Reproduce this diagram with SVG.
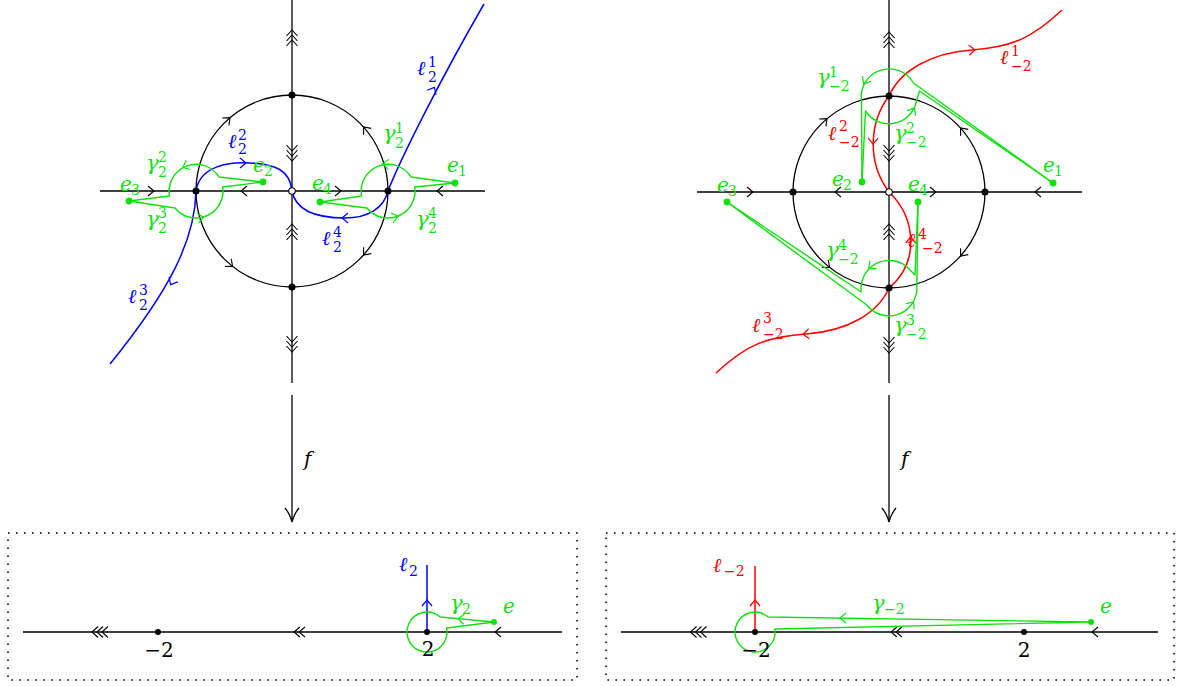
<svg xmlns="http://www.w3.org/2000/svg" xmlns:xlink="http://www.w3.org/1999/xlink" width="1181" height="686" viewBox="0 0 1181 686">
<style>
.ax{stroke:#000;stroke-width:1.3;fill:none}
.bl{stroke:#0000ff;stroke-width:1.5;fill:none}
.rd{stroke:#ff0000;stroke-width:1.5;fill:none}
.gn{stroke:#10e010;stroke-width:1.4;fill:none;stroke-linejoin:round}
.ck{stroke:#000;stroke-width:1.1;fill:none}
.cb{stroke:#0000ff;stroke-width:1.2;fill:none}
.cr{stroke:#ff0000;stroke-width:1.2;fill:none}
.cg{stroke:#10e010;stroke-width:1.2;fill:none}
.dot{fill:#000}
.gdot{fill:#10e010}
.box{fill:none;stroke:#000;stroke-width:1.6;stroke-dasharray:1.6 6.4}
.t{font-family:"DejaVu Serif","Liberation Serif",serif;font-style:italic;font-size:20px}
.g{font-size:21px}
.s{font-style:normal;font-size:14px}
.n{font-family:"DejaVu Serif","Liberation Serif",serif;font-size:20px;fill:#000;text-anchor:middle}
.tb{fill:#0000ff}
.tr{fill:#ff0000}
.tg{fill:#10e010}
.tk{fill:#000}
</style>
<defs>
<path id="c1" d="M-3,-5 L3,0 L-3,5"/>
<path id="c2" d="M-5.5,-5 L0.5,0 L-5.5,5 M-0.5,-5 L5.5,0 L-0.5,5"/>
<path id="c3" d="M-8,-5.5 L-2,0 L-8,5.5 M-3,-5.5 L3,0 L-3,5.5 M2,-5.5 L8,0 L2,5.5"/>
</defs>

<!-- ===== LEFT TOP DIAGRAM ===== -->
<g id="left-axes">
<line class="ax" x1="100" y1="191" x2="485" y2="191"/>
<line class="ax" x1="292" y1="0" x2="292" y2="383"/>
<circle class="ax" cx="292" cy="191" r="96"/>
<use href="#c1" class="ck" transform="translate(151,191)"/>
<use href="#c1" class="ck" transform="translate(244,191) rotate(180)"/>
<use href="#c1" class="ck" transform="translate(338,191)"/>
<use href="#c1" class="ck" transform="translate(440,191) rotate(180)"/>
<use href="#c3" class="ck" transform="translate(292,38) rotate(-90)"/>
<use href="#c3" class="ck" transform="translate(292,153) rotate(90)"/>
<use href="#c3" class="ck" transform="translate(292,232) rotate(-90)"/>
<use href="#c3" class="ck" transform="translate(292,344) rotate(90)"/>
<use href="#c1" class="ck" transform="translate(227.8,119.7) rotate(-42)"/>
<use href="#c1" class="ck" transform="translate(365.5,129.3) rotate(230)"/>
<use href="#c1" class="ck" transform="translate(230.3,264.5) rotate(40)"/>
<use href="#c1" class="ck" transform="translate(365.5,252.7) rotate(130)"/>
</g>
<g id="left-lines">
<path class="bl" d="M388,191 C400,160 440,80 484,4"/>
<path class="bl" d="M196,191 C200,165 230,162 250,163 C275,164 290,170 292,191"/>
<path class="bl" d="M196,191 C195,240 170,290 110,364"/>
<path class="bl" d="M292,191 C296,212 320,218 345,218 C368,218 384,208 388,191"/>
<use href="#c1" class="cb" transform="translate(433,90) rotate(-62)"/>
<use href="#c1" class="cb" transform="translate(243,163)"/>
<use href="#c1" class="cb" transform="translate(172,282) rotate(120)"/>
<use href="#c1" class="cb" transform="translate(345,218) rotate(180)"/>
</g>
<g id="left-loops">
<path class="gn" d="M455,183 L411,177 A27,27 0 0 0 361.5,196 L320,202"/>
<path class="gn" d="M320,202 L367,208 A27,27 0 0 0 414.7,187 L455,183"/>
<path class="gn" d="M263,182 L219,177 A27,27 0 0 0 169.5,196 L129,201"/>
<path class="gn" d="M129,201 L175,208 A27,27 0 0 0 222.7,187 L263,182"/>
<use href="#c1" class="cg" transform="translate(385.6,164.1) rotate(185)"/>
<use href="#c1" class="cg" transform="translate(395,217.1) rotate(-15)"/>
<use href="#c1" class="cg" transform="translate(185.5,166.1) rotate(157)"/>
<use href="#c1" class="cg" transform="translate(200.7,217.6) rotate(-10)"/>
</g>
<g id="left-points">
<circle class="dot" cx="292" cy="95" r="3.5"/>
<circle class="dot" cx="292" cy="287" r="3.5"/>
<circle class="dot" cx="196" cy="191" r="3.5"/>
<circle class="dot" cx="388" cy="191" r="3.5"/>
<circle cx="292" cy="191" r="3.3" fill="#fff" stroke="#000" stroke-width="1.1"/>
<circle class="gdot" cx="455" cy="183" r="3.4"/>
<circle class="gdot" cx="263" cy="182" r="3.4"/>
<circle class="gdot" cx="129" cy="201" r="3.4"/>
<circle class="gdot" cx="320" cy="202" r="3.4"/>
</g>
<g id="left-labels">
<text class="t tg"><tspan x="447" y="172">e</tspan><tspan class="s" x="458" y="176">1</tspan></text>
<text class="t tg"><tspan x="253" y="172">e</tspan><tspan class="s" x="264" y="176">2</tspan></text>
<text class="t tg"><tspan x="120" y="191">e</tspan><tspan class="s" x="131" y="195">3</tspan></text>
<text class="t tg"><tspan x="312" y="190">e</tspan><tspan class="s" x="323" y="194">4</tspan></text>
<text class="t tb"><tspan x="417" y="75">ℓ</tspan><tspan class="s" x="428" y="67">1</tspan><tspan class="s" x="428" y="82">2</tspan></text>
<text class="t tb"><tspan x="228" y="148">ℓ</tspan><tspan class="s" x="238" y="140">2</tspan><tspan class="s" x="238" y="154">2</tspan></text>
<text class="t tb"><tspan x="128" y="303">ℓ</tspan><tspan class="s" x="139" y="295">3</tspan><tspan class="s" x="139" y="310">2</tspan></text>
<text class="t tb"><tspan x="322" y="245">ℓ</tspan><tspan class="s" x="333" y="237">4</tspan><tspan class="s" x="333" y="252">2</tspan></text>
<text class="t tg"><tspan class="g" x="383" y="140">γ</tspan><tspan class="s" x="395" y="133">1</tspan><tspan class="s" x="395" y="148">2</tspan></text>
<text class="t tg"><tspan class="g" x="146" y="170">γ</tspan><tspan class="s" x="158" y="162">2</tspan><tspan class="s" x="158" y="177">2</tspan></text>
<text class="t tg"><tspan class="g" x="146" y="226">γ</tspan><tspan class="s" x="158" y="218">3</tspan><tspan class="s" x="158" y="233">2</tspan></text>
<text class="t tg"><tspan class="g" x="416" y="226">γ</tspan><tspan class="s" x="428" y="218">4</tspan><tspan class="s" x="428" y="233">2</tspan></text>
</g>

<!-- ===== RIGHT TOP DIAGRAM ===== -->
<g id="right-axes">
<line class="ax" x1="697" y1="192" x2="1082" y2="192"/>
<line class="ax" x1="889" y1="0" x2="889" y2="383"/>
<circle class="ax" cx="889" cy="192" r="96"/>
<use href="#c1" class="ck" transform="translate(750,192)"/>
<use href="#c1" class="ck" transform="translate(838,192) rotate(180)"/>
<use href="#c1" class="ck" transform="translate(933,192)"/>
<use href="#c1" class="ck" transform="translate(1038,192) rotate(180)"/>
<use href="#c3" class="ck" transform="translate(889,40) rotate(-90)"/>
<use href="#c3" class="ck" transform="translate(889,153) rotate(90)"/>
<use href="#c3" class="ck" transform="translate(889,232) rotate(-90)"/>
<use href="#c3" class="ck" transform="translate(889,345) rotate(90)"/>
<use href="#c1" class="ck" transform="translate(824.8,120.7) rotate(-42)"/>
<use href="#c1" class="ck" transform="translate(962.5,130.3) rotate(230)"/>
<use href="#c1" class="ck" transform="translate(827.3,265.5) rotate(40)"/>
<use href="#c1" class="ck" transform="translate(962.5,253.7) rotate(130)"/>
</g>
<g id="right-lines">
<path class="rd" d="M889,96 C900,71 930,53 972,50 C1010,47 1030,40 1062,10"/>
<path class="rd" d="M889,96 C870,121 866,161 889,192"/>
<path class="rd" d="M889,192 C916,218 920,262 889,288"/>
<path class="rd" d="M889,288 C878,313 848,331 806,334 C768,337 748,343 716,373"/>
<use href="#c1" class="cr" transform="translate(972,50) rotate(-4)"/>
<use href="#c1" class="cr" transform="translate(873,141) rotate(92)"/>
<use href="#c1" class="cr" transform="translate(910.7,240) rotate(-90)"/>
<use href="#c1" class="cr" transform="translate(806,334) rotate(176)"/>
</g>
<g id="right-loops">
<path class="gn" d="M1053,183 L913.5,83 A28,28 0 0 0 861.5,101 L862,182"/>
<path class="gn" d="M862,182 L865.5,111 A28,28 0 0 0 916.5,101 L919.5,91 L1053,183"/>
<path class="gn" d="M727,202 L866.8,305 A28,28 0 0 0 916.8,291 L918,202"/>
<path class="gn" d="M918,202 L915,275 L907,267 A28,28 0 0 0 861.2,292 L727,202"/>
<use href="#c1" class="cg" transform="translate(865.2,81.3) rotate(121.6)"/>
<use href="#c1" class="cg" transform="translate(912.9,110.7) rotate(-58.4)"/>
<use href="#c1" class="cg" transform="translate(911.8,304.2) rotate(-54.7)"/>
<use href="#c1" class="cg" transform="translate(870.9,266.7) rotate(139.6)"/>
</g>
<g id="right-points">
<circle class="dot" cx="889" cy="96" r="3.5"/>
<circle class="dot" cx="889" cy="288" r="3.5"/>
<circle class="dot" cx="793" cy="192" r="3.5"/>
<circle class="dot" cx="985" cy="192" r="3.5"/>
<circle cx="889" cy="192" r="3.3" fill="#fff" stroke="#000" stroke-width="1.1"/>
<circle class="gdot" cx="1053" cy="183" r="3.4"/>
<circle class="gdot" cx="862" cy="182" r="3.4"/>
<circle class="gdot" cx="727" cy="202" r="3.4"/>
<circle class="gdot" cx="918" cy="202" r="3.4"/>
</g>
<g id="right-labels">
<text class="t tg"><tspan x="1043" y="172">e</tspan><tspan class="s" x="1054" y="176">1</tspan></text>
<text class="t tg"><tspan x="832" y="186">e</tspan><tspan class="s" x="843" y="190">2</tspan></text>
<text class="t tg"><tspan x="717" y="192">e</tspan><tspan class="s" x="728" y="196">3</tspan></text>
<text class="t tg"><tspan x="908" y="191">e</tspan><tspan class="s" x="919" y="195">4</tspan></text>
<text class="t tr"><tspan x="1000" y="64">ℓ</tspan><tspan class="s" x="1011" y="56">1</tspan><tspan class="s" x="1011" y="71">−2</tspan></text>
<text class="t tr"><tspan x="828" y="140">ℓ</tspan><tspan class="s" x="839" y="131">2</tspan><tspan class="s" x="839" y="147">−2</tspan></text>
<text class="t tr"><tspan x="752" y="332">ℓ</tspan><tspan class="s" x="763" y="323">3</tspan><tspan class="s" x="763" y="339">−2</tspan></text>
<text class="t tr"><tspan x="907" y="247">ℓ</tspan><tspan class="s" x="918" y="239">4</tspan><tspan class="s" x="922" y="253">−2</tspan></text>
<text class="t tg"><tspan class="g" x="817" y="84">γ</tspan><tspan class="s" x="829" y="77">1</tspan><tspan class="s" x="829" y="91">−2</tspan></text>
<text class="t tg"><tspan class="g" x="894" y="140">γ</tspan><tspan class="s" x="906" y="133">2</tspan><tspan class="s" x="906" y="147">−2</tspan></text>
<text class="t tg"><tspan class="g" x="894" y="332">γ</tspan><tspan class="s" x="906" y="325">3</tspan><tspan class="s" x="906" y="339">−2</tspan></text>
<text class="t tg"><tspan class="g" x="826" y="257">γ</tspan><tspan class="s" x="838" y="250">4</tspan><tspan class="s" x="838" y="264">−2</tspan></text>
</g>

<!-- ===== MAP ARROWS ===== -->
<g id="map-f-left">
<line class="ax" x1="292" y1="395" x2="292" y2="521"/>
<path class="ax" d="M285,508 Q290,514 292,522 Q294,514 299,508"/>
<text class="t tk" x="304" y="466">f</text>
</g>
<g id="map-f-right">
<line class="ax" x1="889" y1="395" x2="889" y2="521"/>
<path class="ax" d="M882,508 Q887,514 889,522 Q891,514 896,508"/>
<text class="t tk" x="901" y="466">f</text>
</g>

<!-- ===== BOTTOM LEFT ===== -->
<g id="bottom-left">
<rect class="box" x="8" y="533" width="569" height="147"/>
<line class="ax" x1="23" y1="632" x2="562" y2="632"/>
<use href="#c3" class="ck" transform="translate(100,632) rotate(180)"/>
<use href="#c2" class="ck" transform="translate(299.5,632) rotate(180)"/>
<use href="#c1" class="ck" transform="translate(498,632) rotate(180)"/>
<line class="bl" x1="427" y1="632" x2="427" y2="565"/>
<use href="#c1" class="cb" transform="translate(427,603) rotate(-90)"/>
<path class="gn" d="M494,622 L440.2,617 A20,20 0 1 0 446.6,628 L494,622"/>
<use href="#c1" class="cg" transform="translate(461,619) rotate(185)"/>
<circle class="dot" cx="158" cy="632" r="3"/>
<circle class="dot" cx="427" cy="632" r="3"/>
<circle class="gdot" cx="494" cy="622" r="3"/>
<text class="n" x="159" y="657">−2</text>
<text class="n" x="428" y="656">2</text>
<text class="t tb"><tspan x="399" y="571">ℓ</tspan><tspan class="s" x="409" y="576">2</tspan></text>
<text class="t tg"><tspan class="g" x="450" y="610">γ</tspan><tspan class="s" x="462" y="614">2</tspan></text>
<text class="t tg" x="503" y="613">e</text>
</g>

<!-- ===== BOTTOM RIGHT ===== -->
<g id="bottom-right">
<rect class="box" x="606" y="533" width="568" height="147"/>
<line class="ax" x1="621" y1="632" x2="1158" y2="632"/>
<use href="#c3" class="ck" transform="translate(698.5,632) rotate(180)"/>
<use href="#c2" class="ck" transform="translate(896.5,632) rotate(180)"/>
<use href="#c1" class="ck" transform="translate(1095,632) rotate(180)"/>
<line class="rd" x1="755" y1="632" x2="755" y2="566"/>
<use href="#c1" class="cr" transform="translate(755,603) rotate(-90)"/>
<path class="gn" d="M1091,622 L768.2,617 A20,20 0 1 0 774.8,629 L1091,622"/>
<use href="#c1" class="cg" transform="translate(843,618) rotate(181)"/>
<circle class="dot" cx="755" cy="632" r="3"/>
<circle class="dot" cx="1024" cy="632" r="3"/>
<circle class="gdot" cx="1091" cy="622" r="3"/>
<text class="n" x="756" y="657">−2</text>
<text class="n" x="1024" y="657">2</text>
<text class="t tr"><tspan x="713" y="572">ℓ</tspan><tspan class="s" x="724" y="576">−2</tspan></text>
<text class="t tg"><tspan class="g" x="872" y="610">γ</tspan><tspan class="s" x="884" y="614">−2</tspan></text>
<text class="t tg" x="1100" y="613">e</text>
</g>
</svg>
